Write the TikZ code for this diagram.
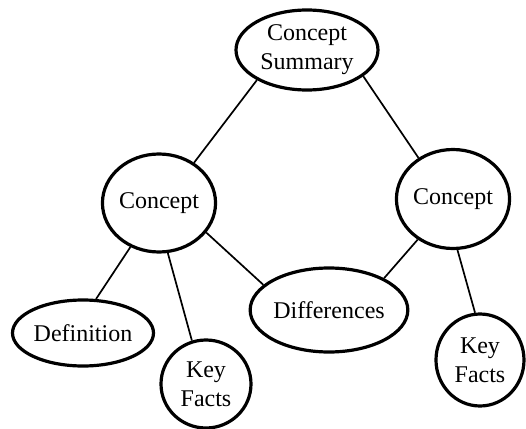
\documentclass[tikz,border=0pt]{standalone}
\usepackage{fontspec}
\setmainfont{Liberation Serif}
\usetikzlibrary{shapes.geometric}

\begin{document}
\begin{tikzpicture}[x=0.5pt,y=-0.5pt]
   \tikzstyle{bubble}=[ellipse,draw,line width=1.6pt,inner sep=0pt,align=center,font=\fontsize{12}{14.5}\selectfont]
   \tikzstyle{link}=[draw,line width=0.85pt]
   \useasboundingbox (0,0) rectangle (526,429) ;
   \node (sum) [bubble,minimum width=71pt,minimum height=40pt] at (307,50) {Concept\\Summary} ;
   \node (conl) [bubble,minimum width=53pt,minimum height=49pt] at (159,203) {Concept} ;
   \node (conr) [bubble,minimum width=55pt,minimum height=49.5pt] at (453,199) {Concept} ;
   \node (def) [bubble,minimum width=70.5pt,minimum height=33pt] at (83,333) {Definition} ;
   \node (kfl) [bubble,minimum width=45pt,minimum height=44pt] at (206,384) {Key\\Facts} ;
   \node (diff) [bubble,minimum width=71pt,minimum height=42pt] at (329,310) {Differences} ;
   \node (kfr) [bubble,minimum width=44pt,minimum height=46pt] at (480,360) {Key\\Facts} ;
   % edges leave and meet the borders a little off the centre line
   \path [link] (sum.211) -- (conl.49) ;
   \path [link] (sum.-25) -- (conr.130) ;
   \path [link] (conl.-123) -- (def.69) ;
   \path [link] (conl.-80) -- (kfl.108) ;
   \path [link] (conl.-32) -- (diff.159) ;
   \path [link] (conr.229) -- (diff.30) ;
   \path [link] (conr.-85) -- (kfr.96) ;
\end{tikzpicture}
\end{document}
